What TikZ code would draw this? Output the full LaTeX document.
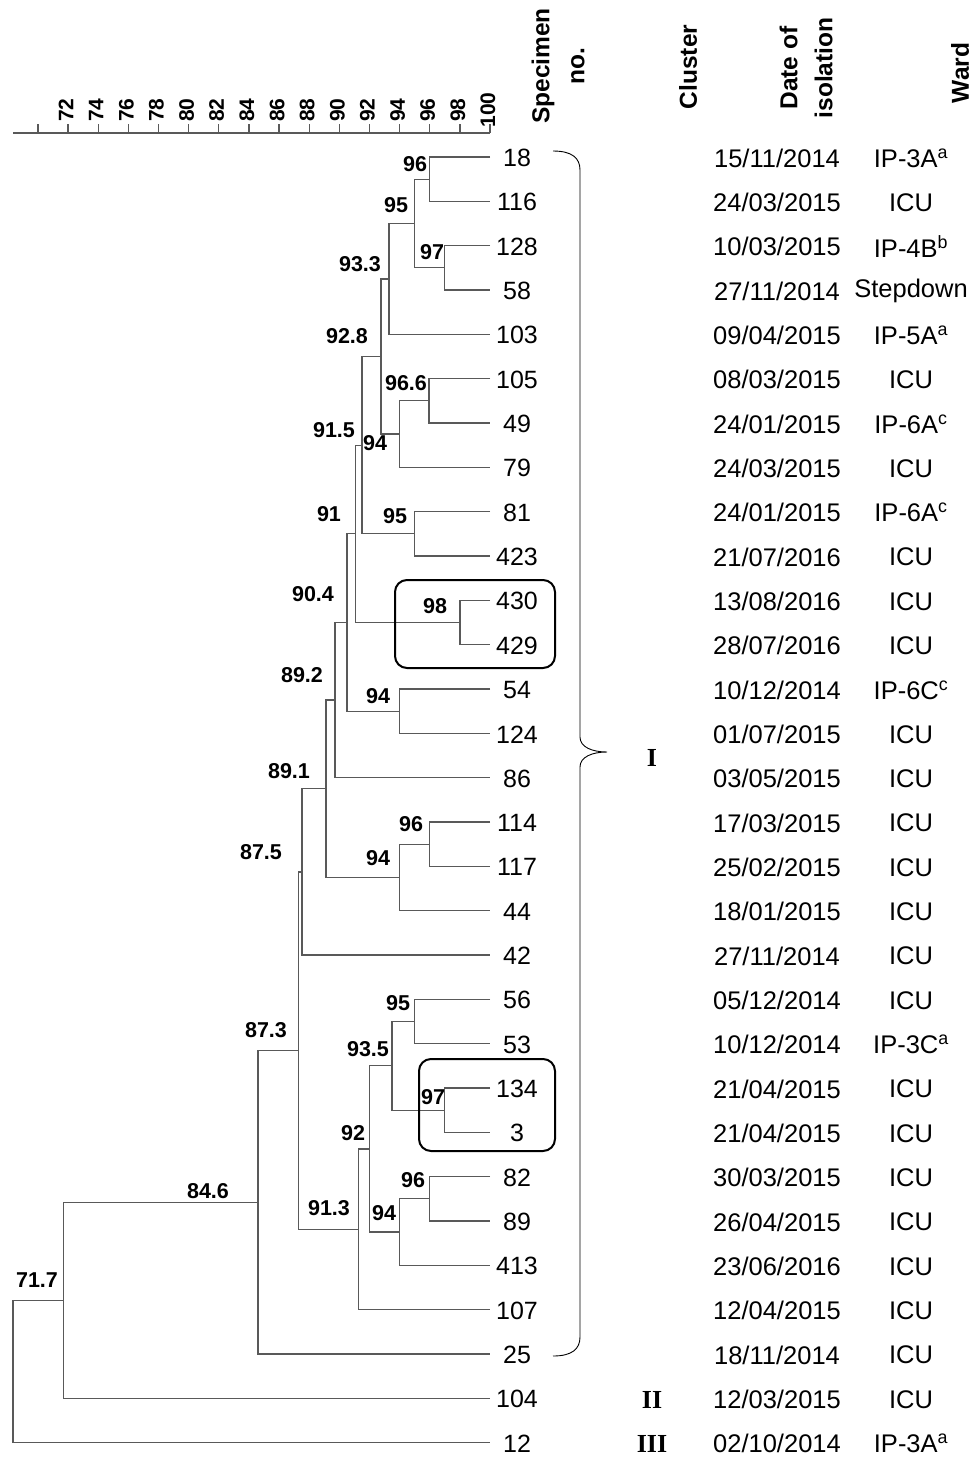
\documentclass[tikz,border=0pt]{standalone}
\usepackage{fontspec}
\setmainfont{Liberation Sans}
\newfontfamily\romfont{Liberation Serif}
\tikzset{
  branch/.style={draw=black!65, line width=1.3pt},
  leaf/.style={inner sep=0pt, font=\fontsize{25}{29}\selectfont},
  rowtext/.style={inner sep=0pt, font=\fontsize{25.5}{29}\selectfont},
  simval/.style={inner sep=0pt, font=\bfseries\fontsize{21.5}{25}\selectfont},
  scalelab/.style={inner sep=0pt, rotate=90, font=\bfseries\fontsize{21}{25}\selectfont},
  colhead/.style={inner sep=0pt, rotate=90, align=center, font=\bfseries\fontsize{24.5}{35}\selectfont},
  clus/.style={inner sep=0pt, font=\romfont\bfseries\fontsize{26}{29}\selectfont},
  grp/.style={draw=black, line width=2pt, rounded corners=12pt}
}
\begin{document}
\begin{tikzpicture}[x=1pt, y=-1pt]
\useasboundingbox (0,0) rectangle (972,1457);

% similarity scale
\coordinate (axL) at (13,133);
\coordinate (axR) at (490,133);
\draw[branch] (axL) -- (axR);
\foreach \v in {70,72,...,100} \draw[branch] ({490-(100-\v)*15.07},133) -- ({490-(100-\v)*15.07},124);
\foreach \v in {72,74,...,100} \node[scalelab] (ax\v) at ({488-(100-\v)*15.07},110) {\v};

% column heads
\node[colhead] (hspec) at (558,66) {Specimen\\no.};
\node[colhead] (hclus) at (688,67) {Cluster};
\node[colhead] (hdate) at (806,68) {Date of\\isolation};
\node[colhead] (hward) at (960,73) {Ward};

% one row per isolate: tip, specimen no., date, ward
\foreach \s/\d/\w [count=\i from 0] in {
  18/{15/11/2014}/{IP-3A\textsuperscript{a}},
  116/{24/03/2015}/ICU,
  128/{10/03/2015}/{IP-4B\textsuperscript{b}},
  58/{27/11/2014}/Stepdown,
  103/{09/04/2015}/{IP-5A\textsuperscript{a}},
  105/{08/03/2015}/ICU,
  49/{24/01/2015}/{IP-6A\textsuperscript{c}},
  79/{24/03/2015}/ICU,
  81/{24/01/2015}/{IP-6A\textsuperscript{c}},
  423/{21/07/2016}/ICU,
  430/{13/08/2016}/ICU,
  429/{28/07/2016}/ICU,
  54/{10/12/2014}/{IP-6C\textsuperscript{c}},
  124/{01/07/2015}/ICU,
  86/{03/05/2015}/ICU,
  114/{17/03/2015}/ICU,
  117/{25/02/2015}/ICU,
  44/{18/01/2015}/ICU,
  42/{27/11/2014}/ICU,
  56/{05/12/2014}/ICU,
  53/{10/12/2014}/{IP-3C\textsuperscript{a}},
  134/{21/04/2015}/ICU,
  3/{21/04/2015}/ICU,
  82/{30/03/2015}/ICU,
  89/{26/04/2015}/ICU,
  413/{23/06/2016}/ICU,
  107/{12/04/2015}/ICU,
  25/{18/11/2014}/ICU,
  104/{12/03/2015}/ICU,
  12/{02/10/2014}/{IP-3A\textsuperscript{a}}} {
  \coordinate (t\s) at (490,{157+44.33*\i});
  \node[leaf] (s\s) at (517,{158+44.33*\i}) {\s};
  \node[rowtext] (d\s) at (777,{158+44.33*\i}) {\d};
  \node[rowtext] (w\s) at (911,{158+44.33*\i}) {\w};
}

% joining points
\coordinate (n96a) at (429.7,179.2);
\coordinate (n97a) at (444.8,267.8);
\coordinate (n95a) at (414.6,223.5);
\coordinate (n933) at (389,278.9);
\coordinate (n966) at (429,400.8);
\coordinate (n94a) at (399.6,434);
\coordinate (n928) at (381,356.5);
\coordinate (n95b) at (414.6,533.8);
\coordinate (n915) at (362,445.2);
\coordinate (n98) at (460,622.5);
\coordinate (n91) at (355.5,533.8);
\coordinate (n94b) at (399.6,711.2);
\coordinate (n904) at (347,622.5);
\coordinate (n892) at (335,700.1);
\coordinate (n96b) at (429.7,844.2);
\coordinate (n94c) at (399.6,877.4);
\coordinate (n891) at (326,788.8);
\coordinate (n875) at (302,871.9);
\coordinate (n95c) at (414.6,1021.5);
\coordinate (n97b) at (444.8,1110.2);
\coordinate (n935) at (392,1065.8);
\coordinate (n96c) at (429.7,1198.8);
\coordinate (n94d) at (399.6,1232);
\coordinate (n92) at (369.4,1148.9);
\coordinate (n913) at (358.5,1229.3);
\coordinate (n873) at (298.5,1050.6);
\coordinate (n846) at (258,1202.3);
\coordinate (n717) at (63.5,1300.3);
\coordinate (root) at (13,1371.5);

% dendrogram
\draw[branch] (t18) -| (n96a) |- (t116);
\draw[branch] (t128) -| (n97a) |- (t58);
\draw[branch] (n96a) -| (n95a) |- (n97a);
\draw[branch] (n95a) -| (n933) |- (t103);
\draw[branch] (t105) -| (n966) |- (t49);
\draw[branch] (n966) -| (n94a) |- (t79);
\draw[branch] (n933) -| (n928) |- (n94a);
\draw[branch] (t81) -| (n95b) |- (t423);
\draw[branch] (n928) -| (n915) |- (n95b);
\draw[branch] (t430) -| (n98) |- (t429);
\draw[branch] (n915) -| (n91) |- (n98);
\draw[branch] (t54) -| (n94b) |- (t124);
\draw[branch] (n91) -| (n904) |- (n94b);
\draw[branch] (n904) -| (n892) |- (t86);
\draw[branch] (t114) -| (n96b) |- (t117);
\draw[branch] (n96b) -| (n94c) |- (t44);
\draw[branch] (n892) -| (n891) |- (n94c);
\draw[branch] (n891) -| (n875) |- (t42);
\draw[branch] (t56) -| (n95c) |- (t53);
\draw[branch] (t134) -| (n97b) |- (t3);
\draw[branch] (n95c) -| (n935) |- (n97b);
\draw[branch] (t82) -| (n96c) |- (t89);
\draw[branch] (n96c) -| (n94d) |- (t413);
\draw[branch] (n935) -| (n92) |- (n94d);
\draw[branch] (n92) -| (n913) |- (t107);
\draw[branch] (n875) -| (n873) |- (n913);
\draw[branch] (n873) -| (n846) |- (t25);
\draw[branch] (n846) -| (n717) |- (t104);
\draw[branch] (n717) -| (root) |- (t12);

% similarity at each join
\node[simval] (v96a) at (415,164) {96};
\node[simval] (v95a) at (396,205) {95};
\node[simval] (v97a) at (432,252) {97};
\node[simval] (v933) at (360,264) {93.3};
\node[simval] (v928) at (347,336) {92.8};
\node[simval] (v966) at (406,383) {96.6};
\node[simval] (v915) at (334,430) {91.5};
\node[simval] (v94a) at (375,443) {94};
\node[simval] (v91) at (329,514) {91};
\node[simval] (v95b) at (395,516) {95};
\node[simval] (v904) at (313,594) {90.4};
\node[simval] (v98) at (435,606) {98};
\node[simval] (v892) at (302,675) {89.2};
\node[simval] (v94b) at (378,696) {94};
\node[simval] (v891) at (289,771) {89.1};
\node[simval] (v96b) at (411,824) {96};
\node[simval] (v94c) at (378,858) {94};
\node[simval] (v875) at (261,852) {87.5};
\node[simval] (v873) at (266,1030) {87.3};
\node[simval] (v95c) at (398,1003) {95};
\node[simval] (v935) at (368,1049) {93.5};
\node[simval] (v97b) at (433,1097) {97};
\node[simval] (v92) at (353,1133) {92};
\node[simval] (v96c) at (413,1180) {96};
\node[simval] (v94d) at (384,1213) {94};
\node[simval] (v913) at (329,1208) {91.3};
\node[simval] (v846) at (208,1191) {84.6};
\node[simval] (v717) at (37,1280) {71.7};

% boxed pairs
\draw[grp] (395,580) rectangle (555,668);
\draw[grp] (419,1059) rectangle (555,1151);

% cluster brace and labels
\draw[line width=0.9pt] (553,151) .. controls (572,151) and (580,158) .. (580,170)
  -- (580,737) .. controls (580,747) and (592,752) .. (607,752)
  .. controls (592,752) and (580,757) .. (580,767)
  -- (580,1337) .. controls (580,1349) and (572,1356) .. (553,1356);
\node[clus] (c1) at (652,758) {I};
\node[clus] (c2) at (652,1400) {II};
\node[clus] (c3) at (652,1444) {III};
\end{tikzpicture}
\end{document}
